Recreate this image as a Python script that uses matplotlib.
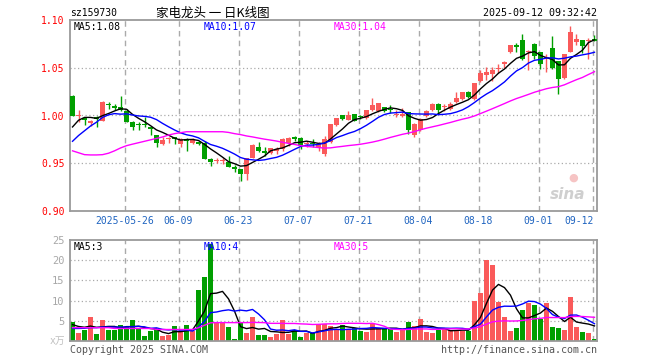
import numpy as np
import pandas as pd
import matplotlib
matplotlib.use('Agg')
import matplotlib.pyplot as plt

# ---------------- data ----------------
opens = [1.020, 0.999, 0.997, 0.9917, 0.998, 0.9944, 1.0125, 1.0101, 1.009, 1.0049,
         0.9934, 0.9905, 0.9912, 0.9875, 0.980, 0.9701, 0.9753, 0.977, 0.970, 0.9753,
         0.971, 0.9725, 0.9708, 0.9545, 0.9527, 0.9527, 0.951, 0.9465, 0.944, 0.9389,
         0.9556, 0.9674, 0.9625, 0.9604, 0.9632, 0.965, 0.9708, 0.9771, 0.9764, 0.970,
         0.9712, 0.966, 0.960, 0.9719, 0.990, 1.0003, 0.9955, 1.0014, 0.999, 0.9969,
         1.0058, 1.0048, 1.0094, 1.0072, 1.0007, 1.000, 1.0038, 0.980, 0.985, 0.9996,
         1.0055, 1.0124, 1.0087, 1.0066, 1.0145, 1.017, 1.0245, 1.017, 1.036, 1.042,
         1.043, 1.049, 1.0535, 1.0667, 1.073, 1.0788, 1.066, 1.0753, 1.0663, 1.060,
         1.0708, 1.057, 1.0396, 1.0663, 1.0767, 1.0795, 1.0775, 1.079]
highs = [1.021, 1.0056, 0.998, 0.995, 0.999, 1.0153, 1.0146, 1.0125, 1.0201, 1.0063,
         0.994, 0.9934, 0.998, 0.988, 0.980, 0.977, 0.977, 0.977, 0.976, 0.976,
         0.9764, 0.9736, 0.9736, 0.956, 0.955, 0.956, 0.9576, 0.9486, 0.944, 0.9556,
         0.970, 0.972, 0.9667, 0.9658, 0.9667, 0.976, 0.977, 0.979, 0.977, 0.9736,
         0.9753, 0.972, 0.979, 0.991, 0.9975, 1.0003, 1.0048, 1.0014, 1.0003, 1.006,
         1.018, 1.013, 1.0094, 1.011, 1.0055, 1.0083, 1.004, 0.992, 0.9975, 1.0055,
         1.0128, 1.0128, 1.0117, 1.0145, 1.0245, 1.025, 1.026, 1.034, 1.048, 1.051,
         1.051, 1.054, 1.057, 1.0743, 1.076, 1.0858, 1.0691, 1.076, 1.0667, 1.0639,
         1.0837, 1.057, 1.064, 1.0934, 1.0858, 1.0795, 1.0813, 1.0847]
lows = [0.999, 0.9927, 0.990, 0.989, 0.988, 0.994, 1.0066, 1.0056, 1.0049, 0.9927,
        0.9847, 0.985, 0.9875, 0.980, 0.9667, 0.9694, 0.971, 0.970, 0.9667, 0.963,
        0.970, 0.969, 0.9545, 0.9476, 0.950, 0.9493, 0.9465, 0.9413, 0.931, 0.932,
        0.9556, 0.9615, 0.958, 0.9597, 0.960, 0.9632, 0.9684, 0.9736, 0.965, 0.9667,
        0.9667, 0.963, 0.958, 0.9715, 0.989, 0.9955, 0.995, 0.9944, 0.996, 0.996,
        1.005, 1.004, 1.0035, 1.0025, 0.998, 0.998, 0.981, 0.977, 0.984, 0.998,
        1.005, 1.003, 1.0048, 1.0055, 1.0135, 1.0165, 1.018, 1.016, 1.035, 1.037,
        1.036, 1.045, 1.050, 1.0656, 1.067, 1.058, 1.0476, 1.0594, 1.0483, 1.0455,
        1.049, 1.0222, 1.0378, 1.066, 1.0733, 1.0656, 1.0594, 1.078]
closes = [1.000, 0.9995, 0.995, 0.9944, 0.996, 1.0142, 1.0108, 1.0083, 1.0059, 0.9934,
          0.9875, 0.990, 0.9905, 0.9854, 0.971, 0.9747, 0.9754, 0.975, 0.9753, 0.9736,
          0.9753, 0.970, 0.9545, 0.9517, 0.9528, 0.953, 0.9465, 0.9437, 0.9389, 0.9556,
          0.9694, 0.9632, 0.961, 0.9656, 0.965, 0.9753, 0.9764, 0.975, 0.9684, 0.9705,
          0.970, 0.970, 0.9753, 0.991, 0.997, 0.9962, 1.000, 0.9944, 0.998, 1.0058,
          1.0107, 1.0128, 1.0048, 1.0058, 1.0014, 1.002, 0.9847, 0.991, 0.9965, 1.0048,
          1.0124, 1.0055, 1.009, 1.0124, 1.018, 1.0245, 1.019, 1.034, 1.044, 1.046,
          1.048, 1.0495, 1.056, 1.0736, 1.0722, 1.0594, 1.0665, 1.0628, 1.0535, 1.0604,
          1.050, 1.0378, 1.0639, 1.0875, 1.0802, 1.0726, 1.0778, 1.0785]
volumes = [4.6, 2.0, 2.65, 5.9, 1.75, 5.1, 2.65, 2.65, 3.9, 3.5,
           5.1, 3.1, 1.25, 2.4, 2.9, 1.25, 1.4, 3.6, 2.4, 3.9,
           2.4, 12.6, 15.8, 23.9, 4.55, 4.55, 3.4, 0.6, 4.7, 2.1,
           5.9, 1.4, 1.4, 1.0, 1.65, 5.1, 1.65, 2.8, 0.9, 1.9,
           2.1, 4.1, 4.1, 3.6, 2.65, 4.05, 2.9, 3.1, 2.4, 2.25,
           4.2, 3.1, 3.2, 3.1, 2.25, 2.8, 4.7, 3.6, 5.4, 2.25,
           2.0, 2.65, 3.1, 2.65, 2.65, 2.4, 2.55, 9.85, 11.8, 20.0,
           18.8, 9.6, 5.9, 2.4, 3.15, 7.6, 9.5, 8.85, 5.55, 9.3,
           3.5, 3.1, 2.65, 10.85, 3.4, 2.15, 1.9, 0.4]

# moving-average values before enough history is visible
ma5_head = [0.988, 0.995, 0.998, 0.998]
ma10_head = [0.973, 0.979, 0.984, 0.989, 0.993, 0.998, 1.0007, 1.002, 1.0014]
ma30_head = [0.963, 0.961, 0.959, 0.9587, 0.9587, 0.959, 0.9605, 0.963, 0.966, 0.9684,
             0.970, 0.9715, 0.973, 0.9745, 0.976, 0.9775, 0.9795, 0.981, 0.982, 0.983,
             0.983, 0.983, 0.983, 0.983, 0.983, 0.983, 0.9823, 0.981, 0.980]
vma5_head = [4.05, 3.6, 3.4, 3.7]
vma10_head = [3.1, 3.1, 3.15, 3.3, 3.3, 3.45, 3.45, 3.45, 3.45]
vma30_head = [3.3, 3.3, 3.3, 3.3, 3.3, 3.3, 3.3, 3.1, 3.1, 3.1,
              3.1, 3.1, 3.1, 3.1, 2.85, 2.85, 2.85, 2.85, 2.85, 2.85,
              2.85, 3.3, 3.9, 4.5, 4.55, 4.55, 4.55, 4.55, 4.55]

date_labels = ['2025-05-26', '06-09', '06-23', '07-07', '07-21', '08-04', '08-18', '09-01', '09-12']
date_index = [9, 18, 28, 38, 48, 58, 68, 78, 87]
price_ticks = [0.90, 0.95, 1.00, 1.05, 1.10]
vol_ticks = [5, 10, 15, 20, 25]

symbol = 'sz159730'
title = '家电龙头 一 日K线图'
timestamp = '2025-09-12 09:32:42'
ma_price_labels = ['MA5:1.08', 'MA10:1.07', 'MA30:1.04']
ma_vol_labels = ['MA5:3', 'MA10:4', 'MA30:5']

# ---------------- helpers ----------------
def with_head(series, window, head):
    s = pd.Series(series).rolling(window).mean().to_numpy()
    s[:len(head)] = head
    return s

RED = '#fa5a5a'
GREEN = '#009f00'
GRID = '#aaaaaa'
MONO = 'DejaVu Sans Mono'
W, H = 660, 360

def fx(px):
    return px / W

def fy(py):
    return 1 - py / H

o = np.array(opens); h = np.array(highs); l = np.array(lows); c = np.array(closes)
v = np.array(volumes)
n = len(c)
x = np.arange(n)
up = c >= o
cols = np.where(up, RED, GREEN)

ma5 = with_head(closes, 5, ma5_head)
ma10 = with_head(closes, 10, ma10_head)
ma30 = with_head(closes, 30, ma30_head)
vma5 = with_head(volumes, 5, vma5_head)
vma10 = with_head(volumes, 10, vma10_head)
vma30 = with_head(volumes, 30, vma30_head)

fig = plt.figure(figsize=(6.6, 3.6), dpi=100)
fig.patch.set_facecolor('white')

ax = fig.add_axes([fx(70), fy(211), fx(527), 191 / H])
axv = fig.add_axes([fx(70), fy(341), fx(527), 101 / H])

xlo, xhi = -0.42, 87.42
grid_x = [i - 0.33 for i in date_index]

for a in (ax, axv):
    a.set_xlim(xlo, xhi)
    for s in a.spines.values():
        s.set_color('#9a9a9a')
        s.set_linewidth(1.3)
    for gx in grid_x:
        a.axvline(gx, color=GRID, lw=1, ls=(0, (4, 3)), zorder=0)
    a.set_xticks([])

# ---- price panel ----
ax.set_ylim(0.90, 1.10)
for gy in [0.95, 1.00, 1.05]:
    ax.axhline(gy, color=GRID, lw=0.9, ls=(0, (1, 2)), zorder=0)
ax.set_yticks(price_ticks)
ax.set_yticklabels(['%.2f' % t for t in price_ticks], color='red', fontfamily=MONO, fontsize=7)
ax.tick_params(axis='y', length=0, pad=4)

# watermark (behind the candles)
ax.text(0.977, 0.085, 'sina', transform=ax.transAxes, fontsize=11, fontweight='bold',
        style='italic', color='#cfcfcf', ha='right', va='center', zorder=1)
ax.text(0.955, 0.175, '●', transform=ax.transAxes, fontsize=8, color='#f6c4c4',
        ha='center', va='center', zorder=1)

ax.vlines(x, l, h, colors=cols, lw=1, zorder=2)
body_h = np.maximum(np.abs(c - o), 0.0011)
ax.bar(x, body_h, bottom=np.minimum(o, c), width=0.82, color=cols, lw=0, zorder=3)
ax.plot(x, ma5, color='black', lw=1, zorder=4)
ax.plot(x, ma10, color='#0000ff', lw=1, zorder=4)
ax.plot(x, ma30, color='#ff00ff', lw=1, zorder=4)

# ---- volume panel ----
axv.set_ylim(0, 25)
for gy in [5, 10, 15, 20]:
    axv.axhline(gy, color=GRID, lw=0.9, ls=(0, (1, 2)), zorder=0)
axv.set_yticks(vol_ticks)
axv.set_yticklabels([str(t) for t in vol_ticks], color='#a8a8a8', fontfamily=MONO, fontsize=7.5)
axv.tick_params(axis='y', length=0, pad=4)
axv.bar(x, v, width=0.82, color=cols, lw=0, zorder=2)
axv.plot(x, vma5, color='black', lw=1, zorder=4)
axv.plot(x, vma10, color='#0000ff', lw=1, zorder=4)
axv.plot(x, vma30, color='#ff00ff', lw=1, zorder=4)

# ---- date labels ----
for k, (gx, lab) in enumerate(zip(grid_x, date_labels)):
    px = 70 + (gx - xlo) / (xhi - xlo) * 527
    ha = 'right' if k == len(date_labels) - 1 else 'center'
    xx = px + 1 if ha == 'right' else px
    fig.text(fx(xx), fy(221), lab, color='#1f64c0', fontfamily=MONO, fontsize=7,
             ha=ha, va='center')

# ---- header texts ----
fig.text(fx(70), fy(13), symbol, fontfamily=MONO, fontsize=7, ha='left', va='center', color='black')
fig.text(fx(213), fy(13), title, family=['Noto Sans CJK SC', 'DejaVu Sans'], fontsize=9,
         ha='center', va='center', color='black')
fig.text(fx(597), fy(13), timestamp, fontfamily=MONO, fontsize=7.2, ha='right', va='center', color='black')

for lab, px, colr in zip(ma_price_labels, [74, 204, 334], ['black', '#0000ff', '#ff00ff']):
    fig.text(fx(px), fy(27), lab, fontfamily=MONO, fontsize=7, ha='left', va='center', color=colr)
for lab, px, colr in zip(ma_vol_labels, [74, 204, 334], ['black', '#0000ff', '#ff00ff']):
    fig.text(fx(px), fy(247), lab, fontfamily=MONO, fontsize=7, ha='left', va='center', color=colr)

fig.text(fx(65), fy(341), 'x万', family=[MONO, 'Noto Sans CJK SC'], fontsize=7,
         ha='right', va='center', color='#c0c0c0')
fig.text(fx(70), fy(350), 'Copyright 2025 SINA.COM', fontfamily=MONO, fontsize=7.2,
         ha='left', va='center', color='#555555')
fig.text(fx(597), fy(350), 'http://finance.sina.com.cn', fontfamily=MONO, fontsize=7.2,
         ha='right', va='center', color='#555555')

fig.savefig('out.png', dpi=100)
